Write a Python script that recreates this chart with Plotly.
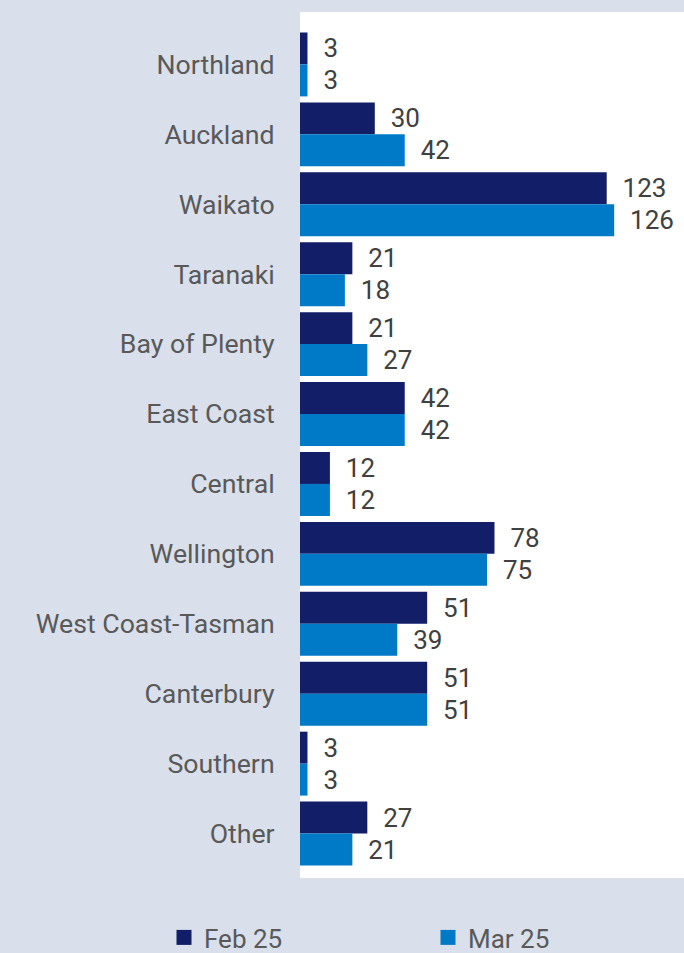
import plotly.graph_objects as go

regions = ["Northland", "Auckland", "Waikato", "Taranaki", "Bay of Plenty", "East Coast",
           "Central", "Wellington", "West Coast-Tasman", "Canterbury", "Southern", "Other"]
feb_25 = [3, 30, 123, 21, 21, 42, 12, 78, 51, 51, 3, 27]
mar_25 = [3, 42, 126, 18, 27, 42, 12, 75, 39, 51, 3, 21]
series_names = ["Feb 25", "Mar 25"]

FEB_COLOR = "#131e69"
MAR_COLOR = "#007ac7"
BG = "#d9e0eb"
FONT = "Roboto"

fig = go.Figure()
for name, vals, col, leg in [(series_names[0], feb_25, FEB_COLOR, "legend"),
                             (series_names[1], mar_25, MAR_COLOR, "legend2")]:
    fig.add_trace(go.Bar(
        y=regions, x=vals, orientation="h", name=name,
        marker=dict(color=col, line=dict(width=0)),
        texttemplate="\u00a0\u00a0%{x}", textposition="outside",
        textfont=dict(family=FONT, size=26, color="#404040"),
        constraintext="none", cliponaxis=False, showlegend=False,
        legendgroup=name,
    ))
    fig.add_trace(go.Scatter(
        x=[None], y=[None], mode="markers", name=name, legendgroup=name, legend=leg,
        marker=dict(symbol="square", size=15, color=col),
    ))

n = len(regions)
legend_common = dict(orientation="h", xref="container", yref="container",
                     xanchor="left", y=(953 - 914) / 953, yanchor="top",
                     font=dict(family=FONT, size=26, color="#595959"),
                     bgcolor="rgba(0,0,0,0)", itemsizing="trace")
fig.update_layout(
    width=684, height=953,
    margin=dict(l=300, r=0, t=12, b=75),
    paper_bgcolor=BG, plot_bgcolor="white",
    barmode="group", bargap=0.086, bargroupgap=0,
    font=dict(family=FONT, size=26, color="#595959"),
    xaxis=dict(range=[0, 154], showgrid=False, zeroline=False, showticklabels=False,
               showline=False, ticks=""),
    yaxis=dict(range=[n - 1 + 0.5 + 9.5 / 70, -0.5 - 17.5 / 70], showgrid=False,
               zeroline=False, showline=False, ticks="outside", ticklen=19,
               tickcolor="rgba(0,0,0,0)", tickfont=dict(family=FONT, size=26.7, color="#595959")),
    legend=dict(x=164 / 684, **legend_common),
    legend2=dict(x=428 / 684, **legend_common),
)

fig.write_html("out.html", config={"displayModeBar": False},
               post_script="document.body.style.margin='0';document.body.style.overflow='hidden';")
